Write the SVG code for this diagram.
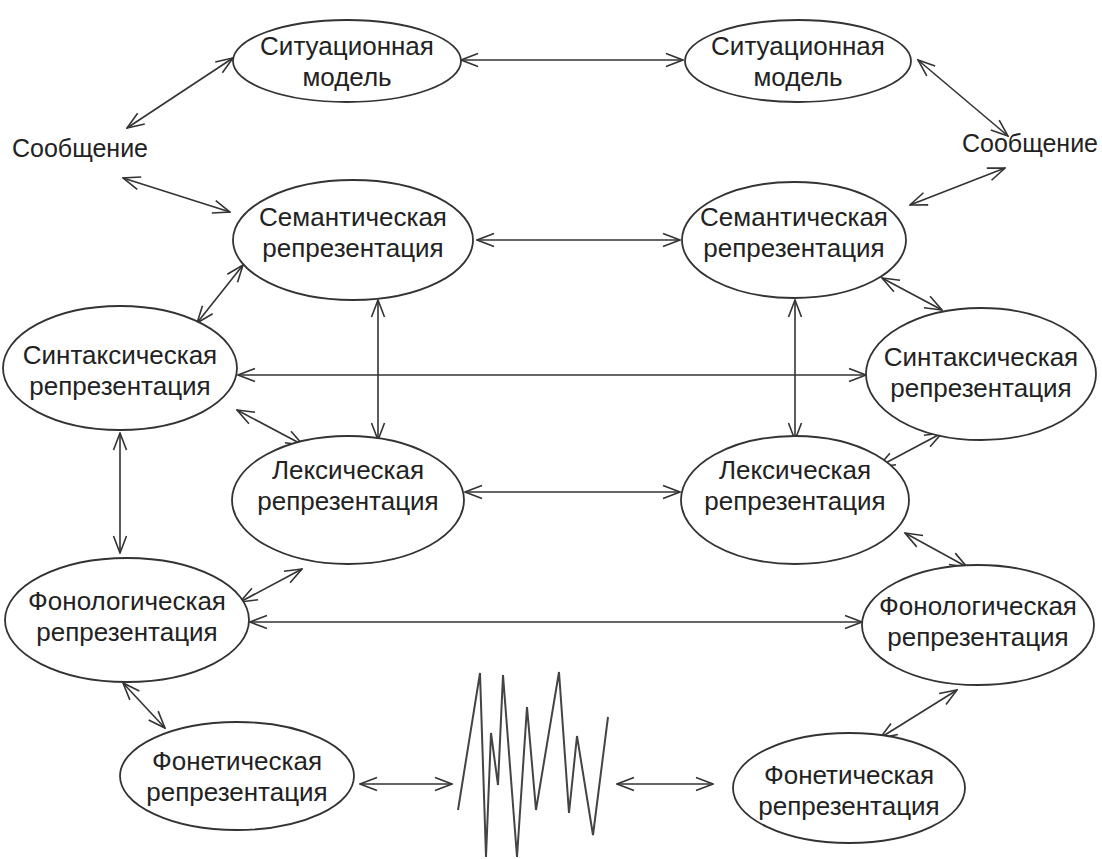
<svg xmlns="http://www.w3.org/2000/svg" width="1102" height="859" viewBox="0 0 1102 859">
<defs>
<marker id="ah" viewBox="0 0 20 20" refX="19" refY="10" markerWidth="20" markerHeight="20" markerUnits="userSpaceOnUse" orient="auto-start-reverse">
<path d="M2,3.5 L19,10 L2,16.5" fill="none" stroke="#333" stroke-width="1.6"/>
</marker>
<style>
.n ellipse{fill:#fff;stroke:#333;stroke-width:1.8}
text{font-family:"Liberation Sans",Arial,sans-serif;font-size:26px;fill:#222;text-anchor:middle}
.m{font-size:25px}
.c line{stroke:#333;stroke-width:1.6;marker-start:url(#ah);marker-end:url(#ah)}
</style>
</defs>
<rect width="1102" height="859" fill="#fff"/>
<g class="c" id="connectors">
<line x1="461" y1="60" x2="683" y2="60"/>
<line x1="127" y1="128" x2="233" y2="58"/>
<line x1="123" y1="178" x2="230" y2="212"/>
<line x1="918" y1="60" x2="1008" y2="136"/>
<line x1="1005" y1="168" x2="910" y2="205"/>
<line x1="477" y1="240" x2="680" y2="240"/>
<line x1="243" y1="265" x2="197" y2="323"/>
<line x1="378" y1="300" x2="378" y2="440"/>
<line x1="238" y1="375" x2="866" y2="375"/>
<line x1="795" y1="300" x2="795" y2="440"/>
<line x1="882" y1="278" x2="942" y2="310"/>
<line x1="237" y1="410" x2="303" y2="445"/>
<line x1="120" y1="433" x2="120" y2="553"/>
<line x1="465" y1="492" x2="680" y2="492"/>
<line x1="942" y1="433" x2="878" y2="467"/>
<line x1="302" y1="569" x2="240" y2="602"/>
<line x1="905" y1="533" x2="967" y2="567"/>
<line x1="250" y1="622" x2="862" y2="622"/>
<line x1="123" y1="683" x2="165" y2="728"/>
<line x1="957" y1="690" x2="880" y2="738"/>
<line x1="360" y1="784" x2="452" y2="784"/>
<line x1="713" y1="784" x2="617" y2="784"/>
</g>
<g id="wave">
<polyline points="458,810 480,673 486,857 491,733 498,785 503,675 517,857 527,707 536,810 559,672 569,813 577,736 593,835 608,717" fill="none" stroke="#444" stroke-width="2"/>
</g>
<g id="msg-left"><text class="m" x="80" y="157">Сообщение</text></g>
<g id="msg-right"><text class="m" x="1030" y="152">Сообщение</text></g>
<g class="n" id="sit-left"><ellipse cx="347" cy="61" rx="114" ry="41"/><text x="347" y="55">Ситуационная</text><text x="347" y="86">модель</text></g>
<g class="n" id="sit-right"><ellipse cx="798" cy="61" rx="113" ry="41"/><text x="798" y="55">Ситуационная</text><text x="798" y="86">модель</text></g>
<g class="n" id="sem-left"><ellipse cx="353" cy="240" rx="120" ry="60"/><text x="353" y="226">Семантическая</text><text x="353" y="257">репрезентация</text></g>
<g class="n" id="sem-right"><ellipse cx="794" cy="240" rx="112" ry="58"/><text x="794" y="226">Семантическая</text><text x="794" y="257">репрезентация</text></g>
<g class="n" id="syn-left"><ellipse cx="120" cy="368" rx="117" ry="62"/><text x="120" y="364">Синтаксическая</text><text x="120" y="395">репрезентация</text></g>
<g class="n" id="syn-right"><ellipse cx="981" cy="374" rx="115" ry="66"/><text x="981" y="366">Синтаксическая</text><text x="981" y="397">репрезентация</text></g>
<g class="n" id="lex-left"><ellipse cx="348" cy="500" rx="116" ry="64"/><text x="348" y="479">Лексическая</text><text x="348" y="510">репрезентация</text></g>
<g class="n" id="lex-right"><ellipse cx="795" cy="500" rx="114" ry="64"/><text x="795" y="479">Лексическая</text><text x="795" y="510">репрезентация</text></g>
<g class="n" id="phon-left"><ellipse cx="127" cy="620" rx="122" ry="62"/><text x="127" y="610">Фонологическая</text><text x="127" y="641">репрезентация</text></g>
<g class="n" id="phon-right"><ellipse cx="978" cy="625" rx="116" ry="60"/><text x="978" y="615">Фонологическая</text><text x="978" y="646">репрезентация</text></g>
<g class="n" id="phonet-left"><ellipse cx="237" cy="776" rx="117" ry="54"/><text x="237" y="770">Фонетическая</text><text x="237" y="801">репрезентация</text></g>
<g class="n" id="phonet-right"><ellipse cx="849" cy="788" rx="116" ry="55"/><text x="849" y="784">Фонетическая</text><text x="849" y="815">репрезентация</text></g>
</svg>
